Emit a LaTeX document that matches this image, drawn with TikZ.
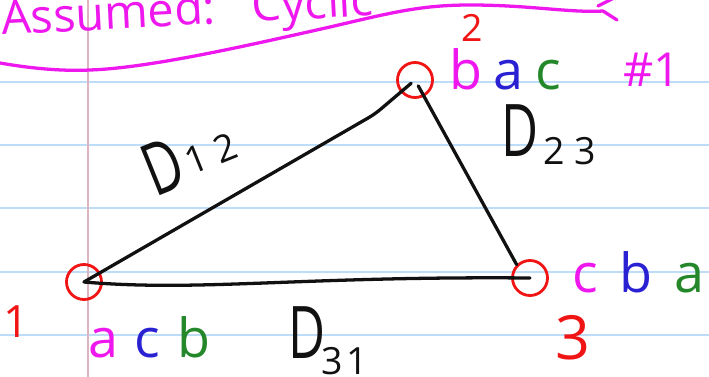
\documentclass[tikz,border=0pt]{standalone}
\usepackage{fontspec}
\setmainfont{Open Sans}
\usetikzlibrary{calc}
\definecolor{Ink}  {HTML}{111111}
\definecolor{Pnk}  {HTML}{EE18EE}
\definecolor{Red}  {HTML}{F01414}
\definecolor{Blu}  {HTML}{2A22D2}
\definecolor{Grn}  {HTML}{24882A}
\definecolor{Rule} {HTML}{BCDCF8}
\definecolor{Marg} {HTML}{DDB4C0}
\newcommand{\rank}[4][0.35cm]{{\color{Pnk}#2}\hspace{#1}{\color{Blu}#3}\hspace{#1}{\color{Grn}#4}}
\newcommand{\bigD}{{\fontsize{62}{62}\selectfont\scalebox{0.7}[1]{D}}}
\newcommand{\subs}[1]{{\fontsize{32}{32}\selectfont #1}}
\tikzset{
  vtx/.style={
    circle, draw=Red, line width=2.4pt,
    minimum size=1.05cm, inner sep=0pt,
  },
  pen/.style={
    draw=Ink, line width=2.8pt,
    line cap=round, line join=round,
  },
  hl/.style={
    draw=Pnk, line width=2.8pt,
    line cap=round, line join=round,
  },
  rk/.style={
    font=\fontsize{46}{46}\selectfont,
    inner sep=0pt, anchor=base west,
  },
  num/.style={
    text=Red, inner sep=0pt,
    font=\fontsize{#1}{#1}\selectfont,
  },
  dl/.style={
    text=Ink, inner sep=0pt, anchor=base west,
  },
  rule/.style={draw=Rule, line width=1.4pt},
  marg/.style={draw=Marg, line width=2pt},
}
\begin{document}
\begin{tikzpicture}[x=0.03cm,y=-0.03cm]
    \useasboundingbox (0,0) rectangle (709,377);
    \clip (0,0) rectangle (709,377);
    \foreach \yy in {82,145,208,272,335} \draw[rule] (0,\yy) -- (709,\yy);
    \draw[marg] (88,0) -- (88,377);

    \node[anchor=base west, text=Pnk, inner sep=0pt, rotate=3,
          font=\fontsize{40}{40}\selectfont] (hd) at (2,35) {Assumed:\hspace{1.1cm}Cyclic};
    \draw[hl] (0,63) .. controls (40,70) and (70,71) .. (90,70)
              .. controls (150,68) and (250,45) .. (330,27)
              .. controls (390,13) and (420,5) .. (470,5)
              .. controls (530,5) and (570,13) .. (603,11) -- (617,20);
    \draw[hl] (598,6) -- (614,-2);

    \node[vtx] (n1) at (84,282) {};
    \node[vtx] (n2) at (415,80) {};
    \node[vtx] (n3) at (530,278) {};
    \coordinate (k12) at (375,114);
    \draw[pen,rounded corners=6pt,shorten >=0.15cm] (n1.center) -- (k12) -- (n2.center);
    \draw[pen,shorten <=0.2cm] (n2.center) -- (n3.north west);
    \draw[pen] (n1.center) .. controls (200,292) and (300,276) .. (n3.center);

    \node[num=32] (l2) at (472,28) {2};
    \node[num=38] (l1) at (16,322) {1};
    \node[num=52] (l3) at (573,338) {3};
    \node[text=Pnk, inner sep=0pt, font=\fontsize{40}{40}\selectfont] (tag) at (652,70) {\#1};

    \node[rk] (r2) at (449,90)  {\rank{b}{a}{c}};
    \node[rk] (r3) at (572,292) {\rank[0.65cm]{c}{b}{a}};
    \node[rk] (r1) at (88,357)  {\rank[0.5cm]{a}{c}{b}};

    \node[dl,rotate=22] (d12) at (155,198) {\bigD\hspace{0.15cm}\raisebox{0.2cm}{\subs{1\hspace{0.3cm}2}}};
    \node[dl] (d23) at (501,157) {\bigD\hspace{0.15cm}\raisebox{-0.24cm}{\subs{2\hspace{0.3cm}3}}};
    \node[dl] (d31) at (288,358) {\bigD\hspace{-0.1cm}\raisebox{-0.5cm}{\subs{3\hspace{0.1cm}1}}};
\end{tikzpicture}
\end{document}
